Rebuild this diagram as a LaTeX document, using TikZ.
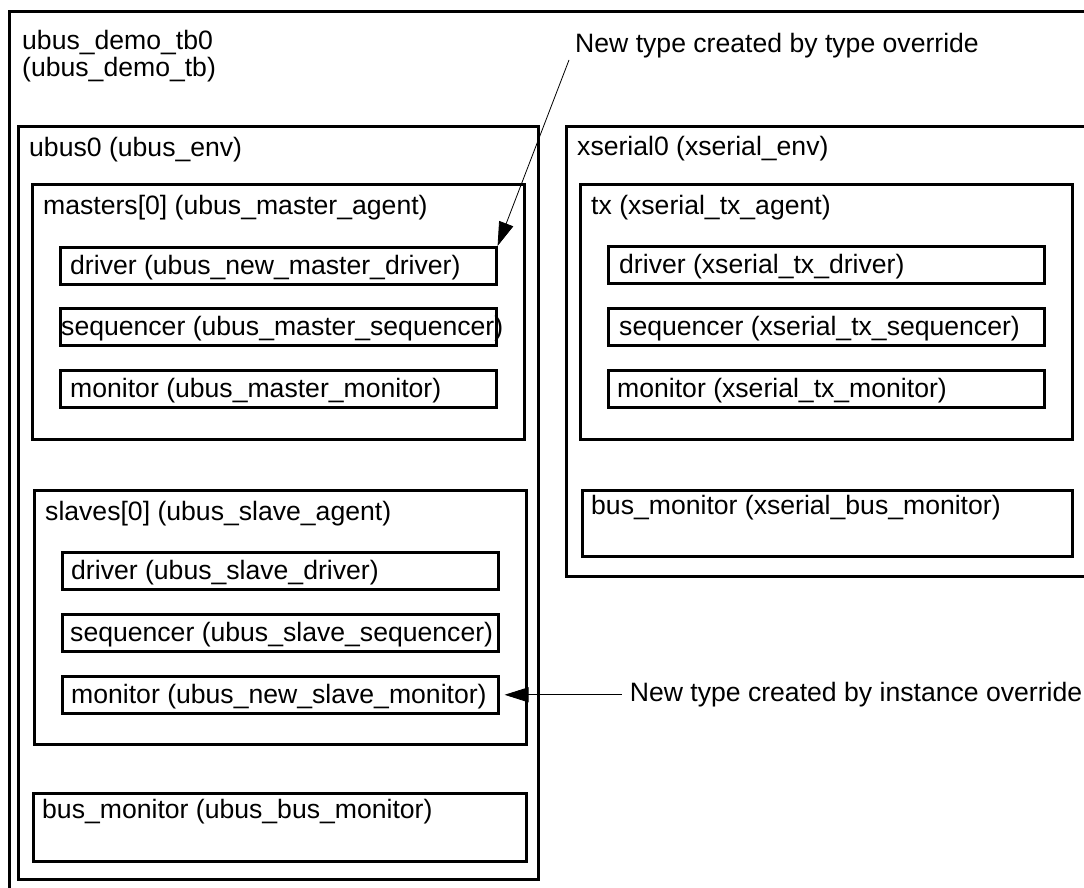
\documentclass[tikz,border=0pt]{standalone}
\usepackage{fontspec}
\setmainfont{Liberation Sans}
\usetikzlibrary{arrows.meta,positioning}

\begin{document}
\begin{tikzpicture}[
x=1pt,y=-1pt,
box/.style={
draw,
line width=2.6pt,
anchor=north west,
inner sep=0pt
},
leaf/.style={box, minimum width=436pt, minimum height=37pt},
lbl/.style={anchor=base west, inner sep=0pt, font=\fontsize{26.6}{28}\selectfont},
note/.style={-{Triangle[length=24pt,width=15pt]}, line width=0.8pt}
]
\useasboundingbox (0,0) rectangle (1084,888);
\clip (0,0) rectangle (1084,888);

% testbench
\node[box, minimum width=1100pt, minimum height=900pt] (tb) at (8,10) {};
\node[lbl] (tbName) at ([shift={(14,40)}]tb.north west) {ubus\_demo\_tb0};
\node[lbl] (tbType) at ([shift={(14,67)}]tb.north west) {(ubus\_demo\_tb)};

% ubus env
\node[box, minimum width=520pt, minimum height=753pt] (ubus) at (17,125) {};
\node[lbl] (ubusT) at ([shift={(12,32)}]ubus.north west) {ubus0 (ubus\_env)};

\node[box, minimum width=492pt, minimum height=255pt] (mst) at (31,183) {};
\node[lbl] (mstT) at ([shift={(12,31)}]mst.north west) {masters[0] (ubus\_master\_agent)};
\node[leaf] (mdrv) at (59,246) {};
\node[lbl] (mdrvT) at ([shift={(11,28)}]mdrv.north west) {driver (ubus\_new\_master\_driver)};
\node[leaf] (mseq) at (59,307) {};
\node[lbl] (mseqT) at ([shift={(2,28)}]mseq.north west) {sequencer (ubus\_master\_sequencer)};
\node[leaf] (mmon) at (59,369) {};
\node[lbl] (mmonT) at ([shift={(11,28)}]mmon.north west) {monitor (ubus\_master\_monitor)};

\node[box, minimum width=492pt, minimum height=254pt] (slv) at (33,489) {};
\node[lbl] (slvT) at ([shift={(12,31)}]slv.north west) {slaves[0] (ubus\_slave\_agent)};
\node[leaf] (sdrv) at (61,551) {};
\node[lbl] (sdrvT) at ([shift={(10,28)}]sdrv.north west) {driver (ubus\_slave\_driver)};
\node[leaf] (sseq) at (61,613) {};
\node[lbl] (sseqT) at ([shift={(9,28)}]sseq.north west) {sequencer (ubus\_slave\_sequencer)};
\node[leaf] (smon) at (61,675) {};
\node[lbl] (smonT) at ([shift={(10,28)}]smon.north west) {monitor (ubus\_new\_slave\_monitor)};

\node[box, minimum width=493pt, minimum height=68pt] (ubm) at (32,792) {};
\node[lbl] (ubmT) at ([shift={(10,26)}]ubm.north west) {bus\_monitor (ubus\_bus\_monitor)};

% xserial env
\node[box, minimum width=600pt, minimum height=450pt] (xser) at (565,125) {};
\node[lbl] (xserT) at ([shift={(12,31)}]xser.north west) {xserial0 (xserial\_env)};

\node[box, minimum width=492pt, minimum height=255pt] (tx) at (579,183) {};
\node[lbl] (txT) at ([shift={(12,31)}]tx.north west) {tx (xserial\_tx\_agent)};
\node[leaf] (xdrv) at (607,245) {};
\node[lbl] (xdrvT) at ([shift={(12,28)}]xdrv.north west) {driver (xserial\_tx\_driver)};
\node[leaf] (xseq) at (607,307) {};
\node[lbl] (xseqT) at ([shift={(12,28)}]xseq.north west) {sequencer (xserial\_tx\_sequencer)};
\node[leaf] (xmon) at (607,369) {};
\node[lbl] (xmonT) at ([shift={(10,28)}]xmon.north west) {monitor (xserial\_tx\_monitor)};

\node[box, minimum width=490pt, minimum height=66pt] (xbm) at (581,489) {};
\node[lbl] (xbmT) at ([shift={(10,25)}]xbm.north west) {bus\_monitor (xserial\_bus\_monitor)};

% override notes
\node[lbl, anchor=west] (typeNote) at (575,46) {New type created by type override};
\coordinate (typeFrom) at (569,60);
\draw[note] (typeFrom) -- (mdrv.north east);

\node[lbl, anchor=west] (instNote) at ([xshift=130pt]smon.east) {New type created by instance override};
\draw[note] ([xshift=-8pt]instNote.west) -- ([xshift=5pt]smon.east);

\end{tikzpicture}
\end{document}
